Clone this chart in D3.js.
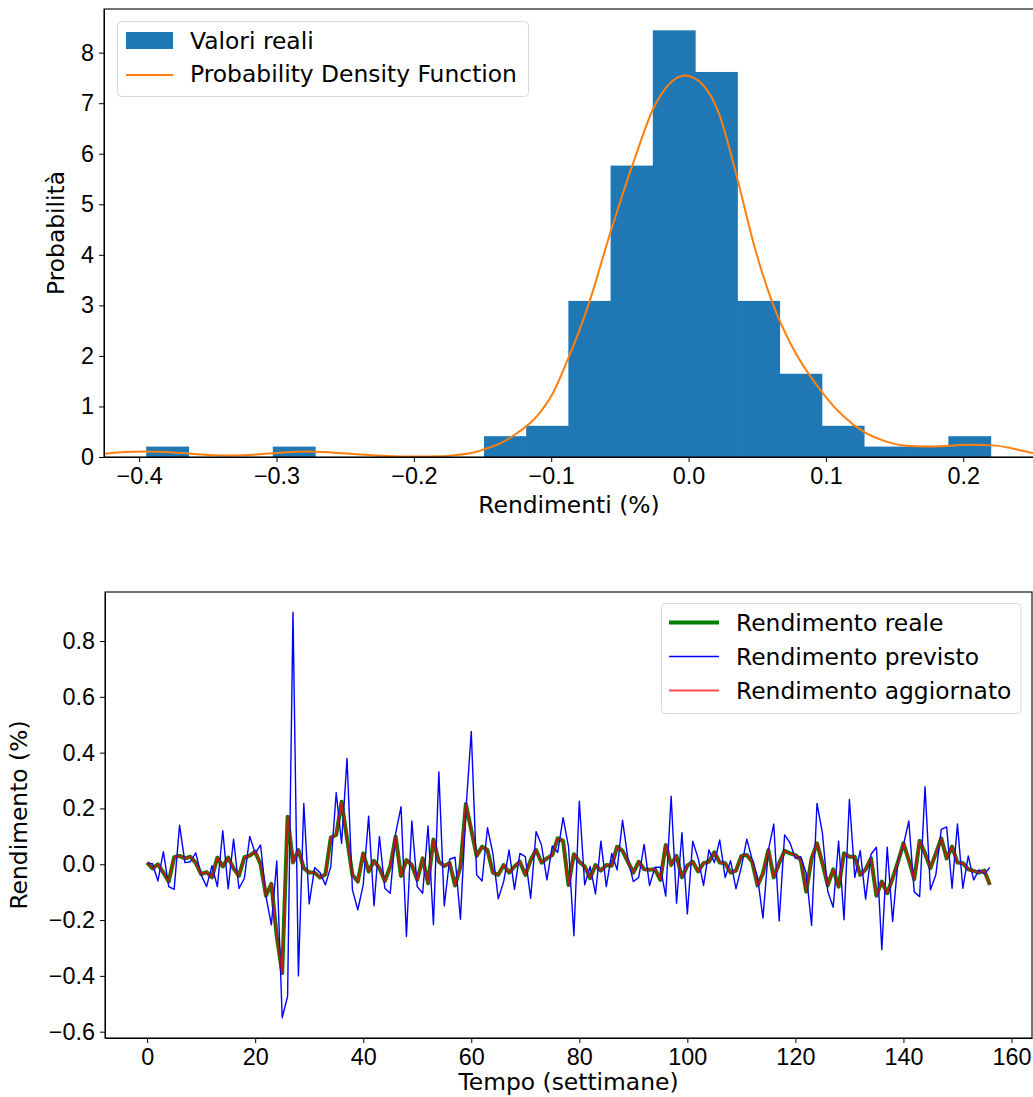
<!DOCTYPE html>
<html>
<head>
<meta charset="utf-8">
<script src="https://cdn.jsdelivr.net/npm/d3@7"></script>
<style>
  body { margin: 0; background: #fff; }
  svg { display: block; font-family: "DejaVu Sans", sans-serif; }
  .tick text { font-size: 23.4px; fill: #000; }
  .tick line, .domain { stroke: #000; }
</style>
</head>
<body>
<svg id="chart" width="1033" height="1097"></svg>
<script>
// --- histogram of returns (20 bins) ---
const binStart = -0.3949;
const binWidth = 0.03074;
const histCounts = [1, 0, 0, 1, 0, 0, 0, 0, 2, 3, 15, 28, 41, 37, 15, 8, 3, 1, 1, 2];

// --- kernel density estimate ---
const kdeX = [-0.425, -0.41, -0.396, -0.38, -0.36, -0.338, -0.32, -0.30, -0.279, -0.26, -0.24, -0.22, -0.199,
  -0.18, -0.169, -0.155, -0.149, -0.135, -0.125, -0.11, -0.099, -0.0876, -0.073, -0.0568, -0.0386, -0.0264,
  -0.0126, -0.0026, 0.0091, 0.0221, 0.0351, 0.0481, 0.0611, 0.0741, 0.0967, 0.113, 0.1274, 0.1435, 0.161,
  0.178, 0.204, 0.2215, 0.239, 0.252];
const kdeY = [0.066, 0.10, 0.11, 0.10, 0.06, 0.03, 0.04, 0.08, 0.11, 0.09, 0.05, 0.02, 0.01,
  0.015, 0.04, 0.10, 0.15, 0.30, 0.47, 0.82, 1.25, 1.95, 3.0, 4.45, 5.95, 6.85,
  7.42, 7.55, 7.40, 6.80, 5.55, 4.15, 3.05, 2.25, 1.30, 0.80, 0.50, 0.31, 0.22,
  0.21, 0.24, 0.23, 0.15, 0.07];

const histXTicks = [-0.4, -0.3, -0.2, -0.1, 0.0, 0.1, 0.2];
const histYTicks = [0, 1, 2, 3, 4, 5, 6, 7, 8];

// --- weekly returns ---
const rendReale = [
  0.006, -0.015, 0.0, -0.03, -0.062, 0.025, 0.03, 0.021, 0.027, 0.005,
  -0.035, -0.028, -0.047, 0.024, -0.008, 0.024, -0.015, -0.041, 0.025, 0.031,
  0.045, 0.0, -0.113, -0.07, -0.259, -0.39, 0.17, 0.006, 0.051, -0.014,
  -0.03, -0.03, -0.048, -0.036, 0.096, 0.105, 0.224, 0.093, -0.038, -0.062,
  0.039, -0.026, 0.012, -0.014, -0.06, -0.008, 0.099, -0.042, 0.015, -0.003,
  -0.056, 0.021, -0.068, 0.089, 0.009, -0.006, 0.004, -0.076, -0.008, 0.216,
  0.123, 0.03, 0.063, 0.051, -0.03, -0.038, -0.003, -0.03, -0.008, 0.009,
  -0.038, 0.015, 0.051, 0.006, 0.021, 0.033, 0.093, 0.084, -0.074, 0.036,
  0.009, -0.008, -0.05, -0.003, -0.023, -0.003, -0.005, 0.063, 0.048, 0.009,
  -0.03, 0.009, -0.018, -0.02, -0.018, -0.056, 0.069, -0.003, 0.03, -0.047,
  -0.005, 0.009, -0.026, 0.004, 0.009, 0.043, 0.006, 0.004, -0.03, -0.023,
  0.03, 0.033, 0.009, -0.076, -0.032, 0.051, -0.047, 0.004, 0.048, 0.039,
  0.033, 0.015, -0.098, 0.021, 0.075, 0.004, -0.076, -0.018, -0.08, 0.039,
  0.027, 0.027, -0.038, -0.018, 0.021, -0.113, -0.062, -0.104, -0.05, 0.009,
  0.075, 0.015, -0.054, 0.084, 0.039, -0.014, 0.039, 0.093, 0.021, 0.063,
  0.006, 0.004, -0.018, -0.024, -0.03, -0.023, -0.074
];
const rendPrevisto = [
  0.004, 0.002, -0.06, 0.045, -0.08, -0.09, 0.14, 0.006, 0.009, 0.041,
  -0.038, -0.08, -0.005, -0.08, 0.12, -0.088, 0.09, -0.087, -0.05, 0.10,
  0.039, 0.069, -0.116, -0.217, 0.012, -0.55, -0.473, 0.903, -0.40, 0.218,
  -0.142, -0.012, -0.03, -0.074, -0.008, 0.256, 0.075, 0.379, -0.092, -0.163,
  -0.074, 0.172, -0.149, 0.099, -0.086, -0.104, 0.111, 0.206, -0.259, 0.155,
  -0.08, -0.104, 0.137, -0.217, 0.331, -0.149, 0.018, 0.025, -0.197, 0.19,
  0.476, -0.038, -0.06, 0.131, 0.039, -0.124, -0.062, 0.051, -0.09, 0.039,
  0.027, -0.122, 0.117, 0.069, -0.056, 0.066, 0.042, 0.167, 0.063, -0.256,
  0.226, -0.074, -0.008, -0.106, 0.083, -0.08, 0.039, -0.02, 0.158, 0.02,
  -0.062, -0.047, 0.071, -0.076, -0.011, -0.011, -0.114, 0.244, -0.14, 0.113,
  -0.178, 0.083, 0.021, -0.076, 0.051, 0.006, 0.087, -0.048, 0.013, -0.088,
  -0.01, 0.09, 0.017, -0.047, -0.193, 0.051, 0.144, -0.203, 0.105, 0.077,
  0.021, 0.027, -0.032, -0.219, 0.218, 0.112, -0.098, -0.154, 0.083, -0.199,
  0.232, -0.047, 0.049, -0.125, 0.036, 0.061, -0.306, 0.061, -0.205, 0.015,
  0.069, 0.155, -0.099, -0.116, 0.278, -0.092, -0.038, 0.125, 0.134, -0.086,
  0.144, -0.086, 0.03, -0.056, -0.02, -0.035, -0.011
];
const rendAggiornato = [
  0.006, -0.015, 0.0, -0.03, -0.062, 0.025, 0.03, 0.021, 0.027, 0.005,
  -0.035, -0.028, -0.047, 0.024, -0.008, 0.024, -0.015, -0.041, 0.025, 0.031,
  0.045, 0.0, -0.113, -0.07, -0.259, -0.39, 0.17, 0.006, 0.051, -0.014,
  -0.03, -0.03, -0.048, -0.036, 0.096, 0.105, 0.224, 0.093, -0.038, -0.062,
  0.039, -0.026, 0.012, -0.014, -0.06, -0.008, 0.099, -0.042, 0.015, -0.003,
  -0.056, 0.021, -0.068, 0.089, 0.009, -0.006, 0.004, -0.076, -0.008, 0.216,
  0.123, 0.03, 0.063, 0.051, -0.03, -0.038, -0.003, -0.03, -0.008, 0.009,
  -0.038, 0.015, 0.051, 0.006, 0.021, 0.033, 0.093, 0.084, -0.074, 0.036,
  0.009, -0.008, -0.05, -0.003, -0.023, -0.003, -0.005, 0.063, 0.048, 0.009,
  -0.03, 0.009, -0.018, -0.02, -0.018, -0.056, 0.069, -0.003, 0.03, -0.047,
  -0.005, 0.009, -0.026, 0.004, 0.009, 0.043, 0.006, 0.004, -0.03, -0.023,
  0.03, 0.033, 0.009, -0.076, -0.032, 0.051, -0.047, 0.004, 0.048, 0.039,
  0.033, 0.015, -0.098, 0.021, 0.075, 0.004, -0.076, -0.018, -0.08, 0.039,
  0.027, 0.027, -0.038, -0.018, 0.021, -0.113, -0.062, -0.104, -0.05, 0.009,
  0.075, 0.015, -0.054, 0.084, 0.039, -0.014, 0.039, 0.093, 0.021, 0.063,
  0.006, 0.004, -0.018, -0.024, -0.03, -0.023, -0.074
];
const tsXTicks = [0, 20, 40, 60, 80, 100, 120, 140, 160];
const tsYTicks = [-0.6, -0.4, -0.2, 0.0, 0.2, 0.4, 0.6, 0.8];

const svg = d3.select("#chart");
const fontSize = 23.4;

// ================= top panel: histogram + pdf =================
const topBox = { left: 104, right: 1034, top: 9, bottom: 457 };

const totalCount = d3.sum(histCounts);
const bins = histCounts.map((c, i) => ({
  x0: binStart + i * binWidth,
  x1: binStart + (i + 1) * binWidth,
  density: c / (totalCount * binWidth)
}));

const xHist = d3.scaleLinear()
  .domain([-0.4256, 0.2515])
  .range([topBox.left, topBox.right]);

const yHist = d3.scaleLinear()
  .domain([0, d3.max(bins, d => d.density) * 1.05])
  .range([topBox.bottom, topBox.top]);

svg.append("clipPath").attr("id", "clipTop")
  .append("rect")
  .attr("x", topBox.left).attr("y", topBox.top)
  .attr("width", topBox.right - topBox.left).attr("height", topBox.bottom - topBox.top);

svg.append("g")
  .selectAll("rect")
  .data(bins.filter(d => d.density > 0))
  .enter()
  .append("rect")
  .attr("x", d => xHist(d.x0))
  .attr("y", d => yHist(d.density))
  .attr("width", d => xHist(d.x1) - xHist(d.x0) + 0.6) // slight overlap hides seams
  .attr("height", d => yHist(0) - yHist(d.density))
  .attr("fill", "#1f77b4");

const kdeLine = d3.line()
  .x(d => xHist(d[0]))
  .y(d => yHist(d[1]))
  .curve(d3.curveMonotoneX);

svg.append("path")
  .datum(kdeX.map((x, i) => [x, kdeY[i]]))
  .attr("clip-path", "url(#clipTop)")
  .attr("fill", "none")
  .attr("stroke", "#ff7f0e")
  .attr("stroke-width", 2)
  .attr("d", kdeLine);

// axes
svg.append("g")
  .attr("transform", `translate(0,${topBox.bottom})`)
  .call(d3.axisBottom(xHist).tickValues(histXTicks).tickFormat(d3.format(".1f")).tickSize(5).tickPadding(5).tickSizeOuter(0));

svg.append("g")
  .attr("transform", `translate(${topBox.left},0)`)
  .call(d3.axisLeft(yHist).tickValues(histYTicks).tickFormat(d3.format("d")).tickSize(5).tickPadding(5).tickSizeOuter(0));

// frame
svg.append("rect")
  .attr("x", topBox.left).attr("y", topBox.top)
  .attr("width", topBox.right - topBox.left).attr("height", topBox.bottom - topBox.top)
  .attr("fill", "none").attr("stroke", "#000").attr("stroke-width", 1.1);

svg.append("text")
  .attr("x", (topBox.left + topBox.right) / 2)
  .attr("y", 513)
  .style("text-anchor", "middle")
  .style("font-size", fontSize + "px")
  .text("Rendimenti (%)");

svg.append("text")
  .attr("transform", "rotate(-90)")
  .attr("x", -(topBox.top + topBox.bottom) / 2)
  .attr("y", 64)
  .style("text-anchor", "middle")
  .style("font-size", fontSize + "px")
  .text("Probabilità");

// legend
const legTop = svg.append("g");
legTop.append("rect")
  .attr("x", 117.5).attr("y", 21.5).attr("width", 411).attr("height", 75).attr("rx", 4)
  .attr("fill", "#fff").attr("fill-opacity", 0.8).attr("stroke", "#d9d9d9");
legTop.append("rect")
  .attr("x", 126).attr("y", 32).attr("width", 47).attr("height", 17)
  .attr("fill", "#1f77b4");
legTop.append("text").attr("x", 190).attr("y", 48.5).style("font-size", fontSize + "px").text("Valori reali");
legTop.append("line")
  .attr("x1", 126).attr("x2", 173).attr("y1", 75).attr("y2", 75)
  .attr("stroke", "#ff7f0e").attr("stroke-width", 2);
legTop.append("text").attr("x", 190).attr("y", 82).style("font-size", fontSize + "px").text("Probability Density Function");

// ================= bottom panel: time series =================
const botBox = { left: 105, right: 1032, top: 592, bottom: 1038 };
const weeks = d3.range(rendReale.length);

const xTs = d3.scaleLinear()
  .domain([-(weeks.length - 1) * 0.05, (weeks.length - 1) * 1.05])
  .range([botBox.left, botBox.right]);

const allVals = rendReale.concat(rendPrevisto, rendAggiornato);
const yMin = d3.min(allVals), yMax = d3.max(allVals);
const yPad = (yMax - yMin) * 0.05;
const yTs = d3.scaleLinear()
  .domain([yMin - yPad, yMax + yPad])
  .range([botBox.bottom, botBox.top]);

const tsLine = d3.line()
  .x((d, i) => xTs(i))
  .y(d => yTs(d));

const series = [
  { name: "Rendimento reale", values: rendReale, color: "green", width: 4, opacity: 1 },
  { name: "Rendimento previsto", values: rendPrevisto, color: "blue", width: 1.4, opacity: 1 },
  { name: "Rendimento aggiornato", values: rendAggiornato, color: "red", width: 2, opacity: 0.7 }
];

series.forEach(s => {
  svg.append("path")
    .datum(s.values)
    .attr("fill", "none")
    .attr("stroke", s.color)
    .attr("stroke-width", s.width)
    .attr("stroke-opacity", s.opacity)
    .attr("stroke-linejoin", "round")
    .attr("d", tsLine);
});

svg.append("g")
  .attr("transform", `translate(0,${botBox.bottom})`)
  .call(d3.axisBottom(xTs).tickValues(tsXTicks).tickFormat(d3.format("d")).tickSize(5).tickPadding(5).tickSizeOuter(0));

svg.append("g")
  .attr("transform", `translate(${botBox.left},0)`)
  .call(d3.axisLeft(yTs).tickValues(tsYTicks).tickFormat(d3.format(".1f")).tickSize(5).tickPadding(5).tickSizeOuter(0));

svg.append("rect")
  .attr("x", botBox.left).attr("y", botBox.top)
  .attr("width", botBox.right - botBox.left).attr("height", botBox.bottom - botBox.top)
  .attr("fill", "none").attr("stroke", "#000").attr("stroke-width", 1.1);

svg.append("text")
  .attr("x", (botBox.left + botBox.right) / 2)
  .attr("y", 1090)
  .style("text-anchor", "middle")
  .style("font-size", fontSize + "px")
  .text("Tempo (settimane)");

svg.append("text")
  .attr("transform", "rotate(-90)")
  .attr("x", -(botBox.top + botBox.bottom) / 2)
  .attr("y", 27)
  .style("text-anchor", "middle")
  .style("font-size", fontSize + "px")
  .text("Rendimento (%)");

// legend
const legBot = svg.append("g");
legBot.append("rect")
  .attr("x", 661.5).attr("y", 603.5).attr("width", 359.5).attr("height", 110).attr("rx", 4)
  .attr("fill", "#fff").attr("fill-opacity", 0.8).attr("stroke", "#d9d9d9");
series.forEach((s, i) => {
  const yy = 622.5 + i * 34;
  legBot.append("line")
    .attr("x1", 669).attr("x2", 719).attr("y1", yy).attr("y2", yy)
    .attr("stroke", s.color).attr("stroke-width", s.width).attr("stroke-opacity", s.opacity);
  legBot.append("text")
    .attr("x", 736).attr("y", yy + 8)
    .style("font-size", fontSize + "px")
    .text(s.name);
});
</script>
</body>
</html>
